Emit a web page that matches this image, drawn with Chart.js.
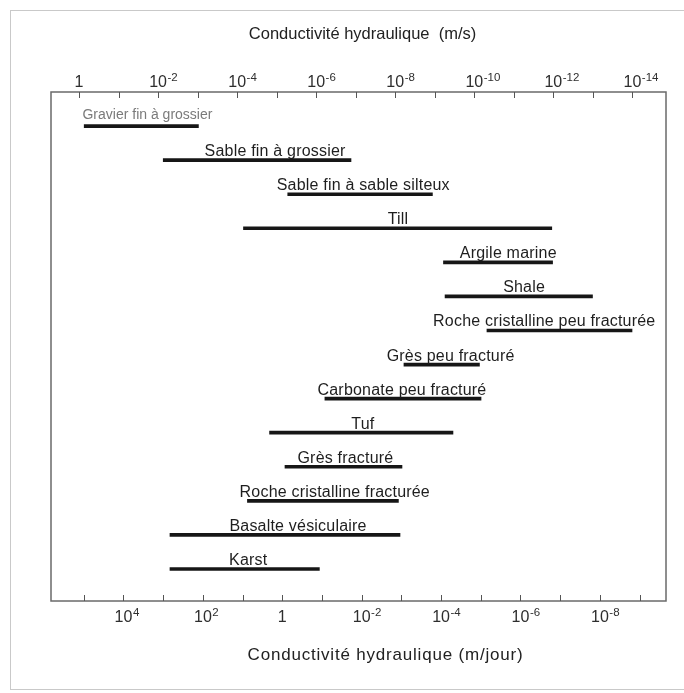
<!DOCTYPE html>
<html>
<head>
<meta charset="utf-8">
<script src="https://cdn.jsdelivr.net/npm/chart.js@4.4.1/dist/chart.umd.min.js"></script>
<style>
  body { margin: 0; background: #fff; }
</style>
</head>
<body>
<canvas id="myChart" width="684" height="693"></canvas>
<script>
// materials, top to bottom
const materials = [
  'Gravier fin à grossier',
  'Sable fin à grossier',
  'Sable fin à sable silteux',
  'Till',
  'Argile marine',
  'Shale',
  'Roche cristalline peu fracturée',
  'Grès peu fracturé',
  'Carbonate peu fracturé',
  'Tuf',
  'Grès fracturé',
  'Roche cristalline fracturée',
  'Basalte vésiculaire',
  'Karst'
];

// range of K, as log10 (m/s)
const kHigh = [-0.13, -2.13, -5.28, -4.16, -9.22, -9.26, -10.32, -8.22, -6.22, -4.82, -5.21, -4.26, -2.30, -2.30];
const kLow = [-3.02, -6.88, -8.94, -11.96, -11.98, -12.99, -13.99, -10.13, -10.17, -9.46, -8.17, -8.08, -8.12, -6.08];

// where each name sits along the axis, log10 (m/s)
const labelAt = [-1.73, -4.96, -7.19, -8.07, -10.86, -11.26, -11.77, -9.40, -8.17, -7.18, -6.74, -6.47, -5.54, -4.28];

// axis ticks (exponents)
const topTicks = [0, -1, -2, -3, -4, -5, -6, -7, -8, -9, -10, -11, -12, -13, -14];
const topLabels = [0, -2, -4, -6, -8, -10, -12, -14];
const bottomTicks = [5, 4, 3, 2, 1, 0, -1, -2, -3, -4, -5, -6, -7, -8, -9];
const bottomLabels = [4, 2, 0, -2, -4, -6, -8];

const FONT = '"Liberation Sans", Arial, sans-serif';

function drawPow(ctx, x, y, exp) {
  ctx.textBaseline = 'alphabetic';
  ctx.font = '16px ' + FONT;
  if (exp === 0) {
    ctx.textAlign = 'center';
    ctx.fillText('1', x, y);
    return;
  }
  let w = ctx.measureText('10').width;
  ctx.textAlign = 'center';
  ctx.fillText('10', x, y);
  ctx.font = '11.5px ' + FONT;
  ctx.textAlign = 'left';
  ctx.fillText(String(exp), x + w / 2 + 0.5, y - 6.5);
}

const decor = {
  id: 'decor',
  afterDraw(chart) {
    let ctx = chart.ctx;
    let a = chart.chartArea;
    let xTop = chart.scales.x;
    let xBot = chart.scales.x2;
    let ys = chart.scales.y;

    ctx.save();

    // light frame round the figure
    ctx.strokeStyle = '#c9c9c9';
    ctx.lineWidth = 1;
    ctx.strokeRect(10.5, 10.5, 720, 679);

    // plot box
    ctx.strokeStyle = '#6a6a6a';
    ctx.lineWidth = 1.5;
    ctx.strokeRect(a.left, a.top, a.right - a.left, a.bottom - a.top);

    // ticks inside the box
    ctx.strokeStyle = '#555';
    ctx.lineWidth = 1;
    ctx.beginPath();
    topTicks.forEach(t => {
      let px = Math.round(xTop.getPixelForValue(t)) + 0.5;
      ctx.moveTo(px, a.top);
      ctx.lineTo(px, a.top + 6);
    });
    bottomTicks.forEach(t => {
      let px = Math.round(xBot.getPixelForValue(t)) + 0.5;
      ctx.moveTo(px, a.bottom);
      ctx.lineTo(px, a.bottom - 6);
    });
    ctx.stroke();

    // tick labels
    ctx.fillStyle = '#2e2e2e';
    topLabels.forEach(t => drawPow(ctx, xTop.getPixelForValue(t), a.top - 5, t));
    bottomLabels.forEach(t => drawPow(ctx, xBot.getPixelForValue(t), a.bottom + 21, t));

    // axis titles
    ctx.textAlign = 'center';
    ctx.fillStyle = '#222';
    ctx.font = '16.5px ' + FONT;
    ctx.fillText('Conductivité hydraulique  (m/s)', (a.left + a.right) / 2 + 4, a.top - 53);
    ctx.font = '17px ' + FONT;
    ctx.letterSpacing = '0.8px';
    ctx.fillText('Conductivité hydraulique (m/jour)', (a.left + a.right) / 2 + 27, a.bottom + 59);
    ctx.letterSpacing = '0px';

    // material names above their bars
    materials.forEach((name, i) => {
      let px = xTop.getPixelForValue(labelAt[i]);
      let py = ys.getPixelForValue(i);
      if (i === 0) {
        ctx.font = '14px ' + FONT;
        ctx.fillStyle = '#7a7a7a';
        ctx.fillText(name, px, py - 7);
      } else {
        ctx.font = '16px ' + FONT;
        ctx.letterSpacing = '0.2px';
        ctx.fillStyle = '#1e1e1e';
        ctx.fillText(name, px, py - 4);
        ctx.letterSpacing = '0px';
      }
    });

    ctx.restore();
  }
};

let barData = materials.map((m, i) => ({ x: [kHigh[i], kLow[i]], y: i }));

let data = {
  datasets: [
    {
      data: barData,
      backgroundColor: '#161616',
      borderWidth: 0,
      barThickness: 3,
      xAxisID: 'x',
      yAxisID: 'y'
    }
  ]
};

var options = {
  responsive: false,
  animation: false,
  indexAxis: 'y',
  layout: {
    padding: { left: 51, top: 92, right: 18, bottom: 92 }
  },
  plugins: {
    legend: { display: false },
    tooltip: { enabled: false }
  },
  scales: {
    x: {
      type: 'linear',
      display: false,
      reverse: true,
      min: -14.85,
      max: 0.71
    },
    // m/jour axis, as printed on the original (a bit shifted)
    x2: {
      type: 'linear',
      display: false,
      reverse: true,
      min: -9.665,
      max: 5.826
    },
    y: {
      type: 'linear',
      display: false,
      reverse: true,
      offset: false,
      min: -1,
      max: 13.94
    }
  }
};

var ctx = document.getElementById('myChart');
var myChart = new Chart(ctx, {
  type: 'bar',
  data: data,
  options: options,
  plugins: [decor]
});
</script>
</body>
</html>
